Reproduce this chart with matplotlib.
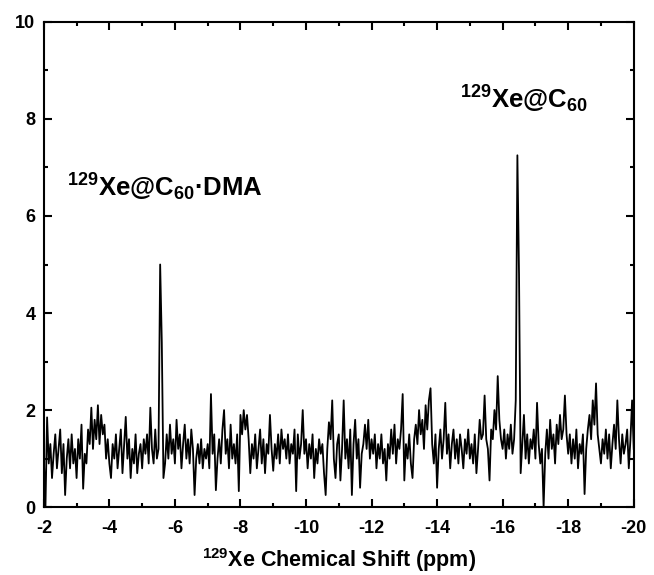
import numpy as np
import matplotlib
matplotlib.use("Agg")
import matplotlib.pyplot as plt
from matplotlib.ticker import MultipleLocator

# 129Xe NMR spectrum, intensity every 0.05 ppm from -2 to -20
intensity = (
    [1.0, 0.0, 1.85, 0.9, 1.3, 0.6, 1.1, 1.5, 0.8, 1.2, 1.6, 0.7, 1.3, 0.25, 1.0, 1.4, 0.8, 1.5, 0.9, 1.2]
    + [0.6, 1.4, 1.0, 1.7, 0.38, 1.1, 0.9, 1.6, 1.3, 2.05, 1.2, 1.8, 1.4, 2.1, 1.3, 1.9, 1.5, 1.7, 1.0, 1.4]
    + [0.9, 0.6, 1.3, 1.0, 1.5, 0.8, 1.2, 1.6, 0.7, 1.3, 1.86, 1.0, 1.4, 0.6, 1.2, 0.9, 1.5, 0.7, 1.1, 1.3]
    + [0.8, 1.4, 1.1, 1.5, 0.9, 2.05, 1.2, 0.9, 1.6, 1.0, 1.2, 5.0, 3.4, 0.6, 0.9, 1.5, 1.0, 1.7, 1.1, 1.4]
    + [0.9, 1.8, 1.2, 1.5, 0.8, 1.3, 1.7, 1.0, 1.4, 0.9, 1.6, 1.2, 0.25, 1.0, 1.3, 0.9, 1.4, 0.8, 1.2, 1.0]
    + [1.3, 0.8, 2.33, 1.1, 1.5, 0.35, 1.0, 1.4, 0.9, 1.6, 2.0, 1.1, 1.4, 0.8, 1.7, 1.0, 1.3, 0.9, 1.5, 0.33]
    + [1.9, 1.5, 2.0, 1.6, 1.9, 1.4, 0.7, 1.3, 1.0, 1.5, 0.8, 1.2, 1.6, 0.9, 1.4, 0.7, 1.3, 1.1, 1.9, 1.2]
    + [0.75, 1.3, 1.0, 1.5, 0.9, 1.6, 1.2, 1.4, 1.0, 1.5, 0.9, 1.3, 1.1, 1.6, 0.33, 1.5, 1.0, 1.3, 2.0, 1.1]
    + [1.4, 0.8, 1.3, 1.0, 1.5, 0.6, 1.2, 0.9, 1.4, 1.1, 1.3, 0.7, 0.25, 1.2, 1.75, 1.4, 2.2, 1.0, 0.6, 1.3]
    + [1.5, 0.55, 1.2, 2.2, 1.0, 1.4, 0.8, 1.6, 0.25, 1.3, 1.8, 1.0, 1.4, 0.4, 1.1, 1.3, 1.7, 1.2, 1.8, 1.0]
    + [1.4, 1.1, 1.5, 0.8, 1.3, 1.0, 1.5, 0.9, 1.2, 0.55, 1.3, 1.0, 1.6, 1.1, 1.7, 0.9, 1.4, 1.2, 1.6, 2.33]
    + [0.55, 1.3, 1.0, 1.5, 0.9, 0.6, 1.4, 1.7, 1.3, 2.0, 1.5, 1.8, 1.2, 2.1, 1.6, 2.2, 2.45, 1.3, 0.9, 1.5]
    + [0.4, 1.2, 1.6, 1.0, 1.4, 2.15, 1.1, 1.5, 0.8, 1.3, 1.6, 1.0, 1.4, 0.9, 1.5, 1.2, 0.8, 1.4, 1.1, 1.6]
    + [1.0, 1.3, 0.9, 1.5, 0.7, 1.2, 1.8, 1.4, 1.5, 2.3, 1.4, 1.2, 0.55, 1.6, 1.4, 2.0, 1.6, 2.7, 1.8, 1.4]
    + [1.2, 1.6, 1.0, 1.5, 1.2, 1.7, 1.1, 1.4, 2.2, 7.25, 4.8, 0.7, 1.3, 1.9, 1.0, 1.5, 0.9, 1.4, 1.2, 1.6]
    + [1.0, 2.15, 1.3, 0.9, 1.2, 0.0, 1.1, 1.6, 1.0, 1.8, 1.2, 1.5, 0.9, 1.7, 1.3, 1.9, 1.4, 1.6, 2.3, 1.5]
    + [1.1, 1.5, 0.9, 1.4, 1.0, 1.6, 0.8, 1.3, 1.1, 1.5, 0.27, 1.2, 1.6, 1.9, 1.4, 2.2, 1.7, 2.55, 1.5, 1.2]
    + [0.9, 1.4, 1.1, 1.6, 1.0, 1.5, 0.8, 1.3, 1.7, 1.2, 2.2, 1.4, 0.9, 1.5, 1.1, 1.3, 1.6, 0.8, 1.4, 2.2, 1.2]
)
shift = np.linspace(-2, -20, len(intensity))

peak_labels = ["$^{129}$Xe@C$_{60}$·DMA", "$^{129}$Xe@C$_{60}$"]
peak_label_pos = [(-2.7, 6.6), (-14.7, 8.4)]

plt.rcParams["font.family"] = ["Liberation Sans", "DejaVu Sans"]
plt.rcParams["font.weight"] = "bold"
plt.rcParams["mathtext.default"] = "regular"
plt.rcParams["axes.unicode_minus"] = False

fig = plt.figure(figsize=(6.54, 5.75), dpi=100)
ax = fig.add_axes([0.067, 0.118, 0.902, 0.844])

ax.plot(shift, intensity, color="black", linewidth=1.3)

for text, (x, y) in zip(peak_labels, peak_label_pos):
    ax.text(x, y, text, fontsize=18.5, fontweight="bold", ha="left", va="center")

ax.set_xlim(-2, -20)
ax.set_ylim(0, 10)
ax.xaxis.set_major_locator(MultipleLocator(2))
ax.xaxis.set_minor_locator(MultipleLocator(1))
ax.yaxis.set_major_locator(MultipleLocator(2))
ax.yaxis.set_minor_locator(MultipleLocator(1))
ax.tick_params(which="both", direction="in", top=True, right=True, width=1.5,
               labelsize=13)
ax.tick_params(which="major", length=6)
ax.tick_params(which="minor", length=3)
ax.tick_params(axis="x", pad=9)
ax.tick_params(axis="y", pad=6)
for lab in ax.get_xticklabels() + ax.get_yticklabels():
    lab.set_fontweight("bold")
for sp in ax.spines.values():
    sp.set_linewidth(1.5)

ax.set_xlabel("$^{129}$Xe Chemical Shift (ppm)", fontsize=15.5, fontweight="bold",
              labelpad=7)

fig.savefig("out.png", dpi=100)
